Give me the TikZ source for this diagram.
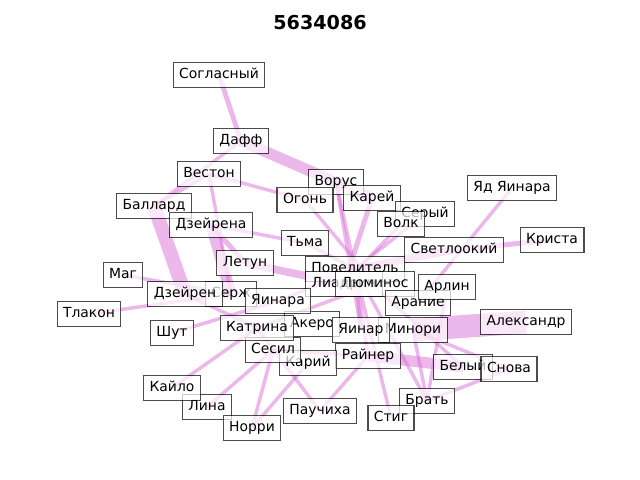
\documentclass[tikz,border=0pt]{standalone}
\usepackage{fontspec}
\setmainfont{DejaVu Sans}
\definecolor{orc}{RGB}{218,112,214}
\pgfdeclarelayer{bg}
\pgfsetlayers{bg,main}
\begin{document}
\begin{tikzpicture}[x=0.72pt,y=-0.72pt,
  lbl/.style={draw=black,draw opacity=0.7,fill=white,fill opacity=0.7,text opacity=1,
    line width=0.8pt,font=\fontsize{10}{12}\selectfont,inner xsep=4.3pt,inner ysep=3.5pt,
    text height=8pt,text depth=2.4pt},
  ed/.style={draw=orc,draw opacity=0.5,line cap=butt},
  et/.style={ed,line width=2.5pt},
  em/.style={ed,line width=3.6pt},
  ew/.style={ed,line width=5.5pt},
  ex/.style={ed,line width=8pt},
  ey/.style={ed,line width=10pt},
  ez/.style={ed,line width=16.5pt}]
\useasboundingbox (0,0) rectangle (640,480);
\node[font=\fontsize{13.8}{16}\selectfont\bfseries] (title) at (320,23) {5634086};
% nodes
\node[lbl] (sogl) at (219,75) {Согласный};
\node[lbl] (daff) at (241,141) {Дафф};
\node[lbl] (veston) at (209,174) {Вестон};
\node[lbl] (ballard) at (154,206) {Баллард};
\node[lbl] (dzeirena) at (211,225) {Дзейрена};
\node[lbl] (vorus) at (336,182) {Ворус};
\node[lbl] (ogon) at (305,200) {Огонь};
\node[lbl] (karei) at (372,198) {Карей};
\node[lbl] (sery) at (425,214) {Серый};
\node[lbl] (volk) at (401,224) {Волк};
\node[lbl] (tma) at (305,243) {Тьма};
\node[lbl] (svet) at (454,250) {Светлоокий};
\node[lbl] (povel) at (355,269) {Повелитель};
\node[lbl] (liad) at (344,284) {Лиадрин};
\node[lbl] (lumin) at (375,284) {Люминос};
\node[lbl] (aranie) at (418,303) {Арание};
\node[lbl] (arlin) at (447,287) {Арлин};
\node[lbl] (yad) at (512,188) {Яд Яинара};
\node[lbl] (krista) at (552,240) {Криста};
\node[lbl] (aleks) at (526,322) {Александр};
\node[lbl] (minori) at (413,330) {Минори};
\node[lbl] (akero) at (312,324) {Акеро};
\node[lbl] (yinar) at (361,330) {Яинар};
\node[lbl] (bely) at (463,367) {Белый};
\node[lbl] (snova) at (509,369) {Снова};
\node[lbl] (brat) at (427,401) {Брать};
\node[lbl] (stig) at (391,418) {Стиг};
\node[lbl] (pauch) at (320,411) {Паучиха};
\node[lbl] (rainer) at (368,356) {Райнер};
\node[lbl] (kary) at (308,363) {Карий};
\node[lbl] (sesil) at (273,350) {Сесил};
\node[lbl] (katrina) at (257,328) {Катрина};
\node[lbl] (serzh) at (231,294) {Серж};
\node[lbl] (yinara) at (278,301) {Яинара};
\node[lbl] (letun) at (245,263) {Летун};
\node[lbl] (dzeiren) at (185,294) {Дзейрен};
\node[lbl] (mag) at (123,275) {Маг};
\node[lbl] (tlakon) at (89,314) {Тлакон};
\node[lbl] (shut) at (172,333) {Шут};
\node[lbl] (lina) at (207,407) {Лина};
\node[lbl] (kailo) at (172,388) {Кайло};
\node[lbl] (norri) at (252,428) {Норри};
% edges
\begin{pgfonlayer}{bg}
\draw[em] (sogl.center) -- (daff.center);
\draw[ex] (daff.center) -- (karei.center);
\draw[et] (daff.center) -- (ballard.center);
\draw[et] (veston.center) -- (ballard.center);
\draw[et] (veston.center) -- (ogon.center);
\draw[et] (veston.center) -- (serzh.center);
\draw[ey] (ballard.center) -- (dzeiren.center);
\draw[ex] (dzeirena.center) -- (serzh.center);
\draw[et] (dzeirena.center) -- (tma.center);
\draw[em] (dzeirena.center) -- (letun.center);
\draw[ew] (letun.center) -- (liad.center);
\draw[et] (mag.center) -- (serzh.center);
\draw[et] (tlakon.center) -- (serzh.center);
\draw[et] (shut.center) -- (yinara.center);
\draw[et] (kailo.center) -- (katrina.center);
\draw[et] (lina.center) -- (sesil.center);
\draw[et] (norri.center) -- (sesil.center);
\draw[et] (norri.center) -- (kary.center);
\draw[et] (katrina.center) -- (pauch.center);
\draw[et] (pauch.center) -- (rainer.center);
\draw[et] (stig.center) -- (povel.center);
\draw[et] (minori.center) -- (brat.center);
\draw[et] (brat.center) -- (arlin.center);
\draw[et] (brat.center) -- (snova.center);
\draw[et] (povel.center) -- (brat.center);
\draw[ex] (rainer.center) -- (bely.center);
\draw[ez] (minori.center) -- (aleks.center);
\draw[et] (minori.center) -- (snova.center);
\draw[em] (svet.center) -- (krista.center);
\draw[et] (yad.center) -- (aranie.center);
\draw[ew] (svet.center) -- (povel.center);
\draw[et] (ogon.center) -- (lumin.center);
\draw[et] (vorus.center) -- (yinar.center);
\draw[et] (vorus.center) -- (povel.center);
\draw[em] (karei.center) -- (liad.center);
\draw[et] (volk.center) -- (liad.center);
\draw[et] (sery.center) -- (povel.center);
\draw[et] (tma.center) -- (povel.center);
\draw[et] (povel.center) -- (yinar.center);
\draw[et] (povel.center) -- (rainer.center);
\draw[et] (yinara.center) -- (povel.center);
\draw[et] (katrina.center) -- (lumin.center);
\draw[et] (sesil.center) -- (rainer.center);
\draw[et] (povel.center) -- (bely.center);
\draw[et] (dzeiren.center) -- (katrina.center);
\end{pgfonlayer}
\end{tikzpicture}
\end{document}
